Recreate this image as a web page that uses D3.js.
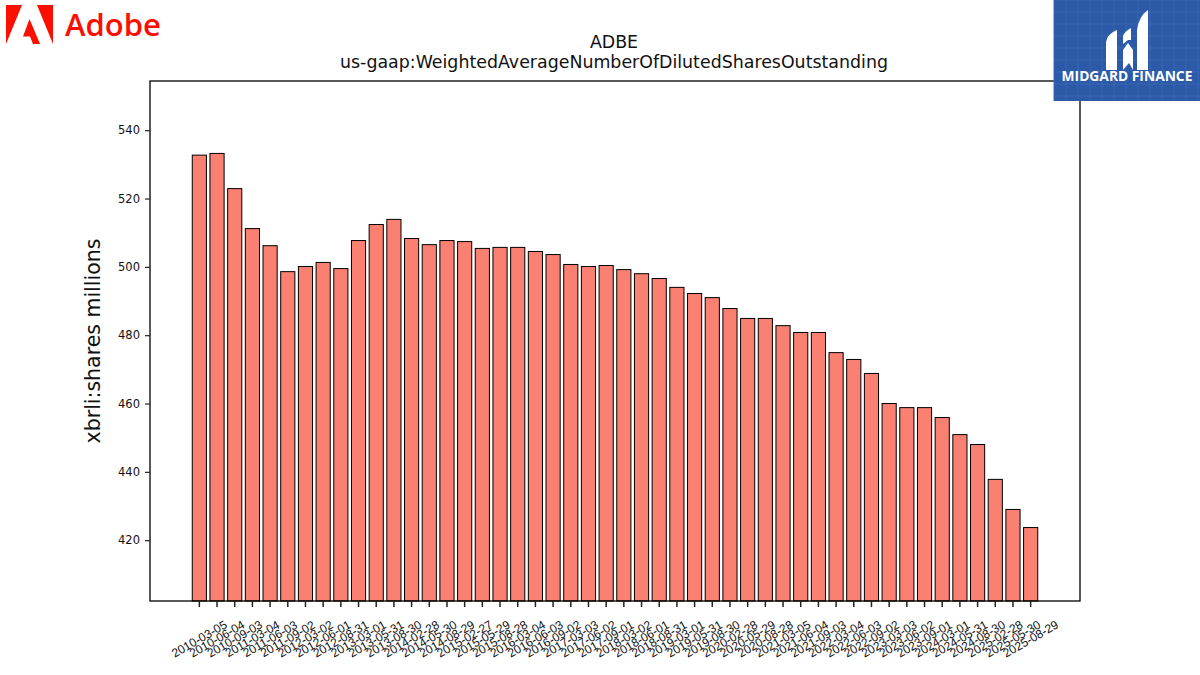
<!DOCTYPE html>
<html>
<head>
<meta charset="utf-8">
<script src="https://cdn.jsdelivr.net/npm/d3@7"></script>
<style>
  body { margin: 0; background: #fff; }
  svg { display: block; font-family: "DejaVu Sans", sans-serif; }
</style>
</head>
<body>
<div id="chart"></div>
<script>
// quarter end dates
const periods = [
  '2010-03-05', '2010-06-04', '2010-09-03', '2011-03-04', '2011-06-03', '2011-09-02',
  '2012-03-02', '2012-06-01', '2012-08-31', '2013-03-01', '2013-05-31', '2013-08-30',
  '2014-02-28', '2014-05-30', '2014-08-29', '2015-02-27', '2015-05-29', '2015-08-28',
  '2016-03-04', '2016-06-03', '2016-09-02', '2017-03-03', '2017-06-02', '2017-09-01',
  '2018-03-02', '2018-06-01', '2018-08-31', '2019-03-01', '2019-05-31', '2019-08-30',
  '2020-02-28', '2020-05-29', '2020-08-28', '2021-03-05', '2021-06-04', '2021-09-03',
  '2022-03-04', '2022-06-03', '2022-09-02', '2023-03-03', '2023-06-02', '2023-09-01',
  '2024-03-01', '2024-05-31', '2024-08-30', '2025-02-28', '2025-05-30', '2025-08-29'
];

// diluted shares, millions
const shares = [
  532.7, 533.2, 522.9, 511.2, 506.2, 498.6,
  500.1, 501.3, 499.5, 507.7, 512.4, 513.9,
  508.3, 506.5, 507.7, 507.4, 505.4, 505.7,
  505.7, 504.5, 503.6, 500.7, 500.1, 500.4,
  499.2, 498.0, 496.6, 494.0, 492.2, 491.0,
  487.8, 484.9, 484.9, 482.8, 480.8, 480.8,
  474.9, 472.9, 468.8, 460.0, 458.8, 458.8,
  455.9, 450.9, 448.0, 437.8, 429.0, 423.7
];

const yTicks = [420, 440, 460, 480, 500, 520, 540];

const W = 1200, H = 675;
const margin = {top: 81, right: 120, bottom: 74, left: 150};
const width = W - margin.left - margin.right;
const height = H - margin.top - margin.bottom;

const svg = d3.select('#chart').append('svg')
  .attr('width', W)
  .attr('height', H);

const g = svg.append('g')
  .attr('transform', `translate(${margin.left},${margin.top})`);

const x = d3.scaleBand()
  .domain(periods)
  .range([0, width])
  .paddingInner(0.2)
  .paddingOuter(2.39);

const y = d3.scaleLinear()
  .domain([402.2, 554.4])
  .range([height, 0]);

// bars
g.selectAll('.bar')
  .data(shares)
  .enter().append('rect')
  .attr('class', 'bar')
  .attr('x', (d, i) => x(periods[i]))
  .attr('width', x.bandwidth())
  .attr('y', d => y(d))
  .attr('height', d => height - y(d))
  .attr('fill', '#fa8072')
  .attr('stroke', '#000')
  .attr('stroke-width', 1);

// frame
g.append('rect')
  .attr('width', width)
  .attr('height', height)
  .attr('fill', 'none')
  .attr('stroke', '#000')
  .attr('stroke-width', 1.3);

// x axis
const xAxis = g.append('g')
  .attr('transform', `translate(0,${height})`)
  .call(d3.axisBottom(x).tickSize(6).tickPadding(0).tickFormat(''));
xAxis.select('.domain').remove();
xAxis.selectAll('.tick line').attr('stroke', '#222').attr('stroke-width', 1.5);

xAxis.selectAll('.tick').append('text')
  .attr('fill', '#111')
  .attr('font-size', 12)
  .attr('text-anchor', 'middle')
  .attr('dominant-baseline', 'central')
  .attr('transform', 'translate(0,38) rotate(-30)')
  .text(d => d);

// y axis
const yAxis = g.append('g')
  .call(d3.axisLeft(y).tickValues(yTicks).tickSize(5).tickPadding(5));
yAxis.select('.domain').remove();
yAxis.selectAll('.tick line').attr('stroke', '#222').attr('stroke-width', 1.2);
yAxis.selectAll('.tick text')
  .attr('font-size', 11.5)
  .attr('fill', '#111')
  .attr('font-family', '"DejaVu Sans", sans-serif');

// y label
svg.append('text')
  .attr('transform', `translate(100,${margin.top + height / 2}) rotate(-90)`)
  .attr('text-anchor', 'middle')
  .attr('font-size', 20.5)
  .attr('fill', '#111')
  .text('xbrli:shares millions');

// titles
svg.append('text')
  .attr('x', margin.left + width / 2 - 1).attr('y', 48)
  .attr('text-anchor', 'middle')
  .attr('font-size', 17.4)
  .attr('fill', '#111')
  .text('ADBE');
svg.append('text')
  .attr('x', margin.left + width / 2 - 1).attr('y', 68)
  .attr('text-anchor', 'middle')
  .attr('font-size', 17.4)
  .attr('fill', '#111')
  .text('us-gaap:WeightedAverageNumberOfDilutedSharesOutstanding');

// adobe logo
const adobe = svg.append('g').attr('fill', '#fa0f00');
adobe.append('path').attr('d', 'M6,5 L22,5 L6,44 Z');
adobe.append('path').attr('d', 'M37,5 L53,5 L53,44 Z');
adobe.append('path').attr('d', 'M29.5,19 L40,44 L33,44 L30,36.5 L23,36.5 Z');
adobe.append('text')
  .attr('x', 65).attr('y', 36)
  .attr('font-family', '"Open Sans", "Noto Sans", sans-serif')
  .attr('font-size', 31)
  .attr('font-weight', 600)
  .text('Adobe');

// midgard finance badge
const mid = svg.append('g').attr('transform', 'translate(1054,0)');
mid.append('rect').attr('width', 146).attr('height', 101).attr('fill', '#2c5aa8');
const grid = d3.range(0, 146, 12);
mid.selectAll('.gv').data(grid).enter().append('line')
  .attr('x1', d => d).attr('x2', d => d).attr('y1', 0).attr('y2', 101)
  .attr('stroke', '#3a66b2').attr('stroke-width', 1);
mid.selectAll('.gh').data(d3.range(0, 101, 12)).enter().append('line')
  .attr('y1', d => d).attr('y2', d => d).attr('x1', 0).attr('x2', 146)
  .attr('stroke', '#3a66b2').attr('stroke-width', 1);
const mark = mid.append('g').attr('fill', '#fff');
mark.append('path').attr('d', 'M52,70 L52,42 Q53,34 63,30 L63,70 Z');
mark.append('path').attr('d', 'M69,70 L69,50 L74,43 L79,50 L79,70 L75,63 Z');
mark.append('path').attr('d', 'M69,44 L69,36 Q71,31 77,28 L77,40 L74,40 Z');
mark.append('path').attr('d', 'M83,70 L83,30 Q85,16 94,10 L94,70 Z');
mid.append('text')
  .attr('x', 73).attr('y', 81)
  .attr('text-anchor', 'middle')
  .attr('fill', '#fff')
  .attr('font-family', '"Open Sans", "DejaVu Sans", sans-serif')
  .attr('font-weight', 700)
  .attr('font-size', 13.8)
  .text('MIDGARD FINANCE');
</script>
</body>
</html>
